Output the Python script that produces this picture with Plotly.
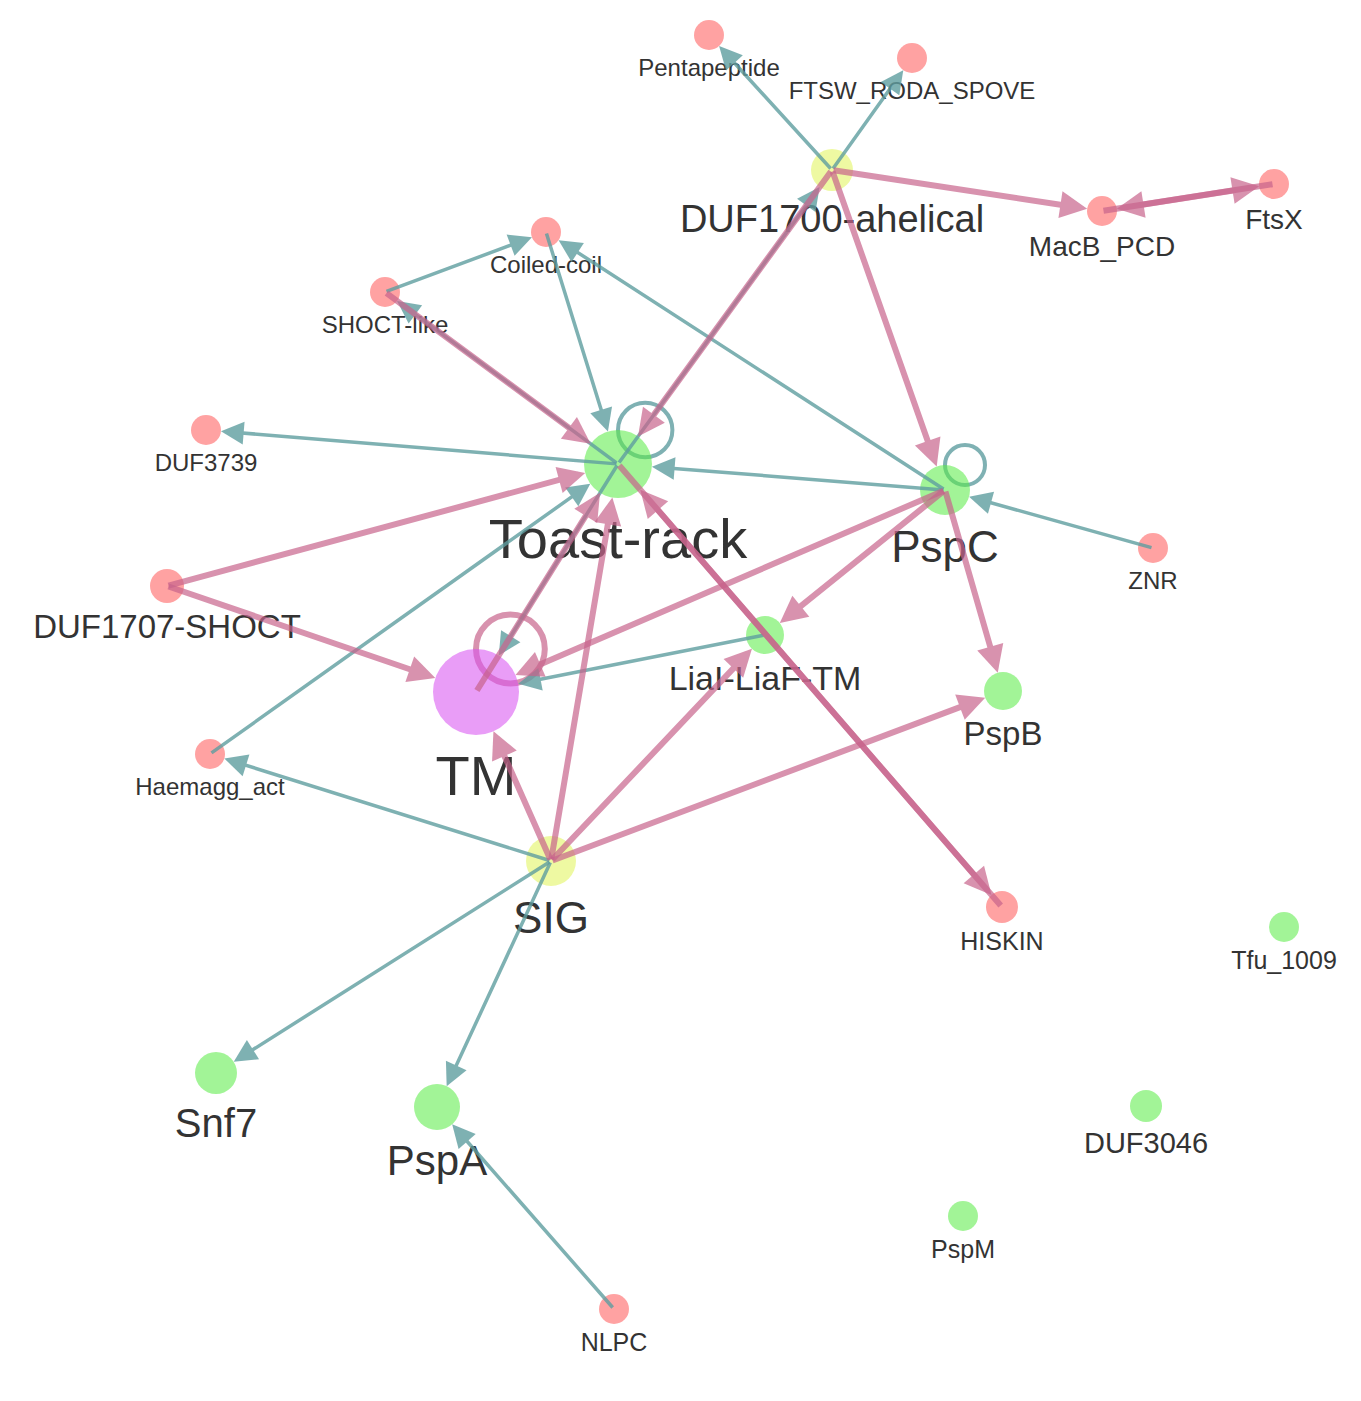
import plotly.graph_objects as go

# node layout (x, y in screen-like coordinates, y grows downward)
names = ["Pentapeptide", "FTSW_RODA_SPOVE", "DUF1700-ahelical", "MacB_PCD", "FtsX",
         "Coiled-coil", "SHOCT-like", "DUF3739", "Toast-rack", "PspC", "ZNR",
         "DUF1707-SHOCT", "LiaI-LiaF-TM", "TM", "PspB", "Haemagg_act", "SIG",
         "HISKIN", "Tfu_1009", "Snf7", "PspA", "DUF3046", "PspM", "NLPC"]
node_x = [709, 912, 832, 1102, 1274, 546, 385, 206, 618, 945, 1153, 167, 765, 476,
          1003, 210, 551, 1002, 1284, 216, 437, 1146, 963, 614]
node_y = [35, 58, 170, 211, 184, 232, 292, 430, 464, 490, 548, 586, 635, 692,
          691, 754, 861, 907, 927, 1073, 1107, 1106, 1216, 1309]
kind = ["dom", "dom", "sig", "dom", "dom", "dom", "dom", "dom", "prot", "prot", "dom",
        "dom", "prot", "tm", "prot", "dom", "sig", "dom", "prot", "prot", "prot",
        "prot", "prot", "dom"]
node_size = [30, 30, 42, 30, 30, 30, 30, 30, 68, 50, 30, 34, 38, 86, 38, 30, 50,
             32, 30, 42, 46, 32, 30, 30]
label_size = [24, 24, 38, 28, 28, 24, 24, 24, 56, 44, 24, 33, 34, 56, 33, 24, 44,
              25, 25, 40, 42, 29, 25, 25]

teal_edges = [("DUF1700-ahelical", "Pentapeptide"), ("DUF1700-ahelical", "FTSW_RODA_SPOVE"),
              ("Toast-rack", "DUF1700-ahelical"), ("SHOCT-like", "Coiled-coil"),
              ("Coiled-coil", "Toast-rack"), ("PspC", "Coiled-coil"),
              ("Toast-rack", "SHOCT-like"), ("Toast-rack", "DUF3739"),
              ("PspC", "Toast-rack"), ("ZNR", "PspC"), ("Toast-rack", "TM"),
              ("LiaI-LiaF-TM", "TM"), ("Haemagg_act", "Toast-rack"),
              ("SIG", "Haemagg_act"), ("SIG", "Snf7"), ("SIG", "PspA"), ("NLPC", "PspA")]
pink_edges = [("DUF1700-ahelical", "MacB_PCD"), ("MacB_PCD", "FtsX"), ("FtsX", "MacB_PCD"),
              ("DUF1700-ahelical", "PspC"), ("DUF1700-ahelical", "Toast-rack"),
              ("DUF1707-SHOCT", "Toast-rack"), ("DUF1707-SHOCT", "TM"), ("PspC", "TM"),
              ("PspC", "LiaI-LiaF-TM"), ("PspC", "PspB"), ("SIG", "Toast-rack"),
              ("SIG", "TM"), ("SIG", "LiaI-LiaF-TM"), ("SIG", "PspB"),
              ("Toast-rack", "HISKIN"), ("HISKIN", "Toast-rack"), ("TM", "Toast-rack"),
              ("SHOCT-like", "Toast-rack")]
loops_teal = ["Toast-rack", "PspC"]
loops_pink = ["TM"]

colors = {"dom": "rgba(255,90,90,0.8)", "prot": "rgba(90,235,70,0.8)",
          "sig": "rgba(225,245,90,0.8)", "tm": "rgba(215,80,240,0.8)"}
TEAL = "rgba(95,158,160,0.8)"
PINK = "rgba(200,100,140,0.7)"

idx = {n: i for i, n in enumerate(names)}
fig = go.Figure()

annotations = []
def add_edges(edges, color, width, size):
    for s, t in edges:
        i, j = idx[s], idx[t]
        annotations.append(dict(
            x=node_x[j], y=node_y[j], ax=node_x[i], ay=node_y[i],
            xref="x", yref="y", axref="x", ayref="y", text="",
            showarrow=True, arrowhead=2, arrowsize=size, arrowwidth=width,
            arrowcolor=color, standoff=node_size[j] / 2, startstandoff=0))

add_edges(teal_edges, TEAL, 3.5, 1.3)
add_edges(pink_edges, PINK, 6, 0.9)

shapes = []
for lst, color, w in [(loops_teal, TEAL, 4), (loops_pink, PINK, 6)]:
    for n in lst:
        i = idx[n]
        r = node_size[i] * 0.4
        cx, cy = node_x[i] + node_size[i] * 0.4, node_y[i] - node_size[i] * 0.5
        shapes.append(dict(type="circle", xref="x", yref="y",
                           x0=cx - r, x1=cx + r, y0=cy - r, y1=cy + r,
                           line=dict(color=color, width=w), layer="below"))

fig.add_trace(go.Scatter(
    x=node_x, y=node_y, mode="markers",
    marker=dict(size=node_size, color=[colors[k] for k in kind], line=dict(width=0)),
    hovertext=names, hoverinfo="text"))

fig.add_trace(go.Scatter(
    x=node_x, y=[y + s / 2 + ls * 0.82 for y, s, ls in zip(node_y, node_size, label_size)],
    mode="text", text=names,
    textfont=dict(size=label_size, color="#333", family="Liberation Sans, Arial, sans-serif"),
    hoverinfo="skip"))

# page body has an 8px margin, so shift the ranges to keep pixel positions
fig.update_layout(
    width=1361, height=1401, showlegend=False,
    margin=dict(l=0, r=0, t=0, b=0),
    plot_bgcolor="white", paper_bgcolor="white",
    xaxis=dict(range=[8, 1369], visible=False),
    yaxis=dict(range=[1409, 8], visible=False),
    annotations=annotations, shapes=shapes)

fig.write_html("out.html")
